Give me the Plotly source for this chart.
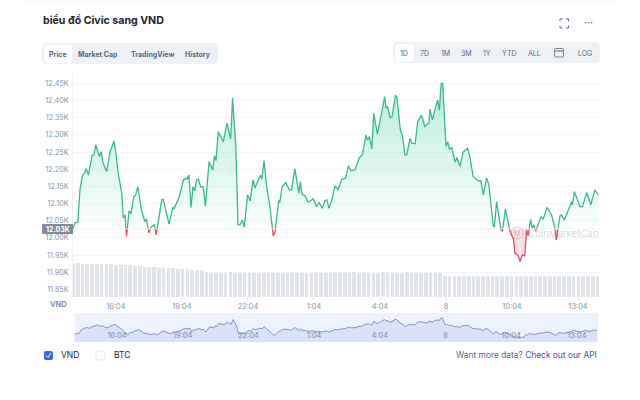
import plotly.graph_objects as go

# minutes since 14:00, price in VND
times = [7, 12, 20, 26, 33, 39, 43, 49, 59, 64, 69, 76, 79, 84, 89, 99, 108, 119, 124, 130,
         140, 144, 149, 153, 160, 165, 173, 178, 184, 193, 203, 207, 214, 220, 229, 234, 249, 253, 269, 279,
         282, 297, 308, 315, 319, 323, 329, 334, 339, 344, 349, 355, 362, 368, 378, 388, 393, 397, 403, 417,
         427, 437, 442, 451, 457, 462, 469, 474, 483, 490, 498, 503, 518, 522, 528, 535, 544, 553, 558, 568,
         571, 577, 587, 597, 603, 612, 623, 627, 631, 640, 648, 662, 671, 678, 687, 694, 699, 705, 713, 721,
         730, 740, 750, 758, 764, 776, 787, 796, 806, 810, 815, 822, 827, 837, 857, 861, 865, 872, 877, 886,
         890, 900, 905, 912, 917, 926, 931, 940, 947, 956, 959, 966, 978, 980, 987, 999, 1001, 1006, 1011, 1015,
         1024, 1029, 1033, 1040, 1049, 1054, 1062, 1071, 1083, 1089, 1098, 1112, 1119, 1126, 1135, 1141, 1153, 1156, 1162, 1174,
         1178, 1186, 1199, 1208, 1212, 1220, 1226, 1232, 1239, 1244, 1248, 1255, 1259, 1264, 1269, 1283, 1289, 1300, 1312, 1321,
         1325, 1335, 1339, 1347, 1367, 1369, 1374, 1389, 1396, 1408, 1419, 1430, 1439]
prices = [12026, 12044, 12045, 12140, 12183, 12189, 12202, 12183, 12240, 12242, 12271, 12242, 12237, 12251, 12218, 12193, 12251, 12282, 12248, 12189,
          12131, 12058, 12067, 12004, 12079, 12070, 12120, 12125, 12149, 12084, 12047, 12055, 12015, 12032, 12038, 12009, 12111, 12113, 12040, 12089,
          12084, 12120, 12169, 12174, 12172, 12183, 12089, 12149, 12137, 12169, 12171, 12149, 12149, 12093, 12222, 12198, 12239, 12225, 12310, 12280,
          12334, 12288, 12407, 12266, 12038, 12038, 12052, 12031, 12125, 12108, 12169, 12145, 12183, 12171, 12225, 12149, 12091, 12006, 12018, 12109,
          12103, 12149, 12161, 12140, 12140, 12201, 12130, 12164, 12128, 12122, 12104, 12114, 12091, 12103, 12086, 12109, 12111, 12086, 12111, 12151,
          12140, 12171, 12174, 12210, 12196, 12198, 12232, 12242, 12300, 12285, 12295, 12259, 12363, 12302, 12411, 12378, 12382, 12350, 12353, 12414,
          12411, 12310, 12300, 12242, 12242, 12290, 12276, 12274, 12339, 12356, 12353, 12324, 12336, 12375, 12344, 12397, 12402, 12371, 12450, 12450,
          12266, 12280, 12259, 12263, 12220, 12234, 12208, 12250, 12261, 12237, 12179, 12166, 12167, 12125, 12174, 12154, 12035, 12032, 12106, 12023,
          12020, 12084, 12018, 11996, 11955, 11950, 11931, 11950, 11948, 12023, 12006, 12054, 12028, 12038, 12020, 12062, 12054, 12089, 12067, 12028,
          11994, 12064, 12067, 12052, 12106, 12096, 12135, 12091, 12091, 12132, 12096, 12140, 12125]
volumes = [33.4, 33.6, 33.3, 33.5, 33.2, 33.4, 33.1, 33.3, 33.0, 32.2, 32.0, 31.9, 31.7, 30.9, 30.6, 30.4, 30.1, 29.8, 29.5, 29.1,
           28.8, 28.6, 28.5, 28.3, 28.1, 27.4, 27.0, 26.8, 24.6, 24.4, 24.5, 24.3, 24.4, 24.6, 24.3, 24.5, 24.4, 24.2, 24.4, 24.3,
           24.5, 24.4, 24.2, 24.4, 24.3, 24.5, 24.4, 24.3, 24.2, 24.4, 24.5, 24.3, 24.4, 24.2, 24.3, 24.5, 24.4, 24.3, 24.4, 24.6,
           24.3, 24.4, 24.5, 24.3, 24.4, 24.6, 24.4, 24.3, 24.5, 24.4, 24.6, 24.4, 24.3, 24.5, 24.2, 24.3, 24.1, 24.0, 20.8, 20.7,
           20.9, 20.6, 20.7, 20.8, 20.6, 20.9, 20.7, 20.6, 20.8, 20.7, 20.6, 20.9, 20.7, 20.8, 20.6, 20.7, 20.9, 20.7, 20.6, 20.8,
           20.7, 20.9, 20.6, 20.7, 20.8, 20.6, 20.7, 20.9, 20.7, 20.6, 20.8]
bar_times = [7 + 13 * i for i in range(len(volumes))]
base_price = 12027

price_ticks = [11850, 11900, 11950, 12000, 12050, 12100, 12150, 12200, 12250, 12300, 12350, 12400, 12450]
price_labels = ["11.85K", "11.90K", "11.95K", "12.00K", "12.05K", "12.10K", "12.15K", "12.20K", "12.25K",
                "12.30K", "12.35K", "12.40K", "12.45K"]
time_ticks = [124, 304, 484, 664, 844, 1024, 1204, 1384]
time_labels = ["16:04", "19:04", "22:04", "1:04", "4:04", "8", "10:04", "13:04"]

tabs = ["Price", "Market Cap", "TradingView", "History"]
tab_x = [58, 98, 152, 198]
ranges = ["1D", "7D", "1M", "3M", "1Y", "YTD", "ALL", "LOG"]
range_x = [404, 424, 445, 466, 487, 509, 534, 585]

FONT = "Inter"
GREEN = "#3bb78f"
RED = "#e0505c"
GRAY = "#8a93a5"


def xp(px):
    return px / 640


def yp(py):
    return 1 - py / 400


def round_rect(x0, y0, x1, y1, r, fill, line="rgba(0,0,0,0)", layer="below"):
    # pixel box to a rounded paper-space path
    x0, x1 = xp(x0), xp(x1)
    y0, y1 = yp(y0), yp(y1)
    rx, ry = r / 640, r / 400
    path = (f"M {x0 + rx} {y0} L {x1 - rx} {y0} Q {x1} {y0} {x1} {y0 - ry} "
            f"L {x1} {y1 + ry} Q {x1} {y1} {x1 - rx} {y1} L {x0 + rx} {y1} "
            f"Q {x0} {y1} {x0} {y1 + ry} L {x0} {y0 - ry} Q {x0} {y0} {x0 + rx} {y0} Z")
    return dict(type="path", xref="paper", yref="paper", path=path, fillcolor=fill,
                line=dict(color=line, width=0.8), layer=layer)


def seg(x0, y0, x1, y1, color, width=1.0):
    return dict(type="line", xref="paper", yref="paper", x0=xp(x0), y0=yp(y0), x1=xp(x1), y1=yp(y1),
                line=dict(color=color, width=width))


def label(px, py, text, size=8, color="#58667e", anchor="center"):
    return dict(x=xp(px), y=yp(py), xref="paper", yref="paper", text=text, showarrow=False,
                xanchor=anchor, yanchor="middle", font=dict(family=FONT, size=size, color=color))


def split_at_base(xs, ys, base):
    # add a point wherever the line crosses the base so the two colours meet there
    out_x, out_y = [xs[0]], [ys[0]]
    for i in range(1, len(xs)):
        if (ys[i - 1] - base) * (ys[i] - base) < 0:
            t = (base - ys[i - 1]) / (ys[i] - ys[i - 1])
            out_x.append(xs[i - 1] + t * (xs[i] - xs[i - 1]))
            out_y.append(base)
        out_x.append(xs[i])
        out_y.append(ys[i])
    return out_x, out_y


cut_x, cut_y = split_at_base(times, prices, base_price)
above = [y if y >= base_price else None for y in cut_y]
below = [y if y <= base_price else None for y in cut_y]

fig = go.Figure()

# volume bars sit behind the price line
fig.add_trace(go.Bar(x=bar_times, y=volumes, yaxis="y2", marker=dict(color="#e1e4e9", line_width=0), width=10))

fig.add_trace(go.Scatter(x=cut_x, y=[base_price] * len(cut_x), mode="lines", line=dict(width=0), hoverinfo="skip"))
fig.add_trace(go.Scatter(x=cut_x, y=[max(y, base_price) for y in cut_y], mode="lines", line=dict(width=0),
                         fill="tonexty",
                         fillgradient=dict(type="vertical", start=12450, stop=base_price,
                                           colorscale=[[0, "rgba(22,199,132,0.30)"], [1, "rgba(22,199,132,0.02)"]])))
fig.add_trace(go.Scatter(x=cut_x, y=[base_price] * len(cut_x), mode="lines", line=dict(width=0), hoverinfo="skip"))
fig.add_trace(go.Scatter(x=cut_x, y=[min(y, base_price) for y in cut_y], mode="lines", line=dict(width=0),
                         fill="tonexty", fillcolor="rgba(234,57,67,0.15)"))
fig.add_trace(go.Scatter(x=cut_x, y=above, mode="lines", line=dict(color=GREEN, width=1.3), connectgaps=False))
fig.add_trace(go.Scatter(x=cut_x, y=below, mode="lines", line=dict(color=RED, width=1.3), connectgaps=False))

# navigator strip
fig.add_trace(go.Scatter(x=times, y=prices, xaxis="x2", yaxis="y3", mode="lines",
                         line=dict(color="#6a7cab", width=0.8), fill="tozeroy", fillcolor="#d9e2f8"))

shapes = [
    round_rect(25, -6, 615, 4, 3, "#f8f9fa"),
    round_rect(42, 43, 218, 64, 5, "#eff2f5"),
    round_rect(44, 45, 72, 63, 4, "#ffffff"),
    round_rect(393, 42, 600, 63, 5, "#eff2f5"),
    round_rect(395, 44, 414, 62, 4, "#ffffff"),
    round_rect(75, 313, 598, 342, 0, "#eef2fc"),
    round_rect(44, 351, 53, 360, 2, "#3861fb", layer="above"),
    round_rect(96, 351, 105, 360, 2, "#ffffff", line="#dfe2e8", layer="above"),
    seg(46, 355.5, 48, 357.5, "#ffffff", 1),
    seg(48, 357.5, 51, 353, "#ffffff", 1),
    # calendar icon
    round_rect(554.5, 48.5, 563.5, 57, 1, "rgba(0,0,0,0)", line="#58667e", layer="above"),
    seg(554.5, 51, 563.5, 51, "#58667e", 1),
    # fullscreen corners
    seg(560, 19, 562.5, 19, "#58667e"), seg(560, 19, 560, 21.5, "#58667e"),
    seg(566, 19, 568.5, 19, "#58667e"), seg(568.5, 19, 568.5, 21.5, "#58667e"),
    seg(560, 28, 562.5, 28, "#58667e"), seg(560, 25.5, 560, 28, "#58667e"),
    seg(566, 28, 568.5, 28, "#58667e"), seg(568.5, 25.5, 568.5, 28, "#58667e"),
    # price tag and dotted level
    seg(73, 229, 600, 229, "#eceef2", 0.8),
    round_rect(42, 224, 73, 234, 0, "#848b99", layer="above"),
    # watermark logo
    dict(type="circle", xref="paper", yref="paper", x0=xp(511), x1=xp(523), y0=yp(239), y1=yp(227),
         line=dict(color="rgba(128,138,157,0.4)", width=0.9)),
]

annotations = [
    label(40.5, 20, "<b>biểu đồ Civic sang VND</b>", size=10.6, color="#222531", anchor="left"),
    label(588, 22, "<b>···</b>", size=9),
    label(58.5, 355, "VND", size=8.5, color="#222531", anchor="left"),
    label(111.5, 355, "BTC", size=8.5, color="#222531", anchor="left"),
    label(599, 355, 'Want more data? <span style="color:#3f51a8">Check out our API</span>', size=8.4, anchor="right"),
    label(58, 304, "<b>VND</b>", size=7.5, color=GRAY),
    label(57.5, 229, "<b>12.03K</b>", size=7, color="#ffffff"),
    label(517, 233, "M", size=7, color="rgba(128,138,157,0.45)"),
    label(563, 233, "CoinMarketCap", size=9.6, color="rgba(128,138,157,0.35)"),
]
for name, px in zip(tabs, tab_x):
    annotations.append(label(px, 54, f"<b>{name}</b>", size=7, color="#58667e"))
for name, px in zip(ranges, range_x):
    annotations.append(label(px, 53, name, size=7, color="#58667e"))

fig.update_layout(
    width=640, height=400, autosize=False,
    margin=dict(l=0, r=0, t=0, b=0),
    paper_bgcolor="#ffffff", plot_bgcolor="rgba(0,0,0,0)",
    showlegend=False, bargap=0,
    font=dict(family=FONT, size=8, color=GRAY),
    shapes=shapes, annotations=annotations,
    xaxis=dict(domain=[xp(73), xp(600)], range=[7, 1444], tickvals=time_ticks, ticktext=time_labels,
               showgrid=False, zeroline=False, showline=False, ticks="outside", ticklen=2,
               tickcolor="#dfe2e8", tickfont=dict(size=7.4, color=GRAY), anchor="y"),
    yaxis=dict(domain=[yp(297), yp(72)], range=[11828, 12483], tickvals=price_ticks, ticktext=price_labels,
               showgrid=True, gridcolor="#f5f6f8", gridwidth=1, zeroline=False, showline=True,
               linecolor="#f0f1f4", ticks="outside", ticklen=2, tickcolor="rgba(0,0,0,0)",
               tickfont=dict(size=7.2, color=GRAY), anchor="x"),
    yaxis2=dict(domain=[yp(297), yp(72)], range=[0, 225], overlaying="y", visible=False, anchor="x"),
    xaxis2=dict(domain=[xp(74.3), xp(598)], range=[7, 1442], tickvals=time_ticks, ticktext=time_labels,
                showgrid=False, zeroline=False, ticks="", ticklabelposition="inside",
                tickfont=dict(size=7.4, color="#7b88ad"), anchor="y3"),
    yaxis3=dict(domain=[yp(342), yp(313)], range=[11827, 12580], visible=False, anchor="x2"),
)

fig.write_html("out.html", post_script="document.body.style.margin='0'", config=dict(displayModeBar=False))
